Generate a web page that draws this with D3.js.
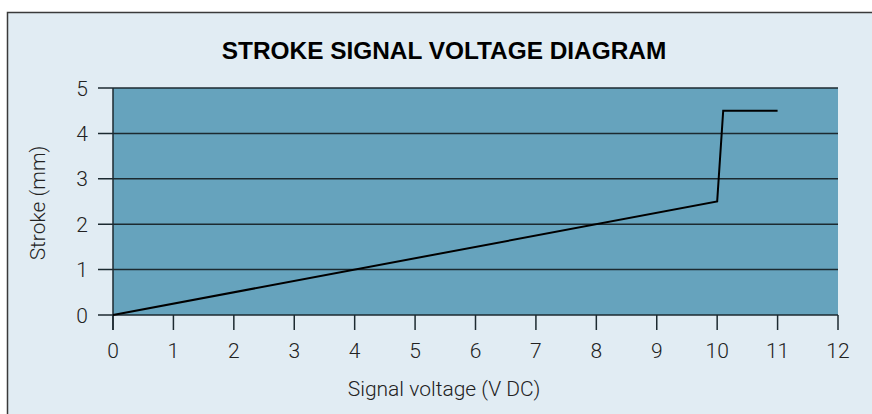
<!DOCTYPE html>
<html><head><meta charset="utf-8">
<script src="https://cdn.jsdelivr.net/npm/d3@7"></script>
<style>html,body{margin:0;padding:0;background:#fff;}svg{display:block;}</style>
</head><body>
<svg id="c" width="872" height="414"></svg>
<script>
const voltage = [0, 10, 10.1, 11];
const stroke = [0, 2.5, 4.5, 4.5];
const xTicks = [0,1,2,3,4,5,6,7,8,9,10,11,12];
const yTicks = [0,1,2,3,4,5];
const title = "STROKE SIGNAL VOLTAGE DIAGRAM";
const xLabel = "Signal voltage (V DC)";
const yLabel = "Stroke (mm)";

const svg = d3.select("#c");
const font = "'Liberation Sans', Arial, sans-serif";
const lfont = "Roboto, 'Liberation Sans', sans-serif";
svg.append("rect").attr("x",7.5).attr("y",12.5).attr("width",880).attr("height",420)
  .attr("fill","#e1ecf3").attr("stroke","#3a3a3a").attr("stroke-width",1.5);

const x = d3.scaleLinear().domain([0,12]).range([113,838]);
const y = d3.scaleLinear().domain([0,5]).range([315,88]);

svg.append("rect").attr("x",x(0)).attr("y",y(5)).attr("width",x(12)-x(0)).attr("height",y(0)-y(5))
  .attr("fill","#66a3bd");

svg.append("g").selectAll("line").data(yTicks).join("line")
  .attr("x1",x(0)-15).attr("x2",x(12)).attr("y1",d=>y(d)).attr("y2",d=>y(d))
  .attr("stroke","#1c2a30").attr("stroke-width",1.5);
svg.append("line").attr("x1",x(0)).attr("x2",x(0)).attr("y1",y(5)).attr("y2",y(0)+15)
  .attr("stroke","#1c2a30").attr("stroke-width",1.5);

svg.append("g").selectAll("text").data(yTicks).join("text")
  .attr("x",x(0)-25).attr("y",d=>y(d)).attr("dy","0.36em").attr("text-anchor","end")
  .attr("font-family",lfont).attr("font-weight",300).attr("font-size",21).attr("fill","#222").text(d=>d);

svg.append("g").selectAll("line").data(xTicks).join("line")
  .attr("x1",d=>x(d)).attr("x2",d=>x(d)).attr("y1",y(0)).attr("y2",y(0)+15)
  .attr("stroke","#1c2a30").attr("stroke-width",1.5);
svg.append("g").selectAll("text").data(xTicks).join("text")
  .attr("x",d=>x(d)).attr("y",y(0)+43).attr("text-anchor","middle")
  .attr("font-family",lfont).attr("font-weight",300).attr("font-size",21).attr("fill","#222").text(d=>d);

const pts = voltage.map((v,i)=>[v,stroke[i]]);
svg.append("path").attr("d",d3.line().x(d=>x(d[0])).y(d=>y(d[1]))(pts))
  .attr("fill","none").attr("stroke","#000").attr("stroke-width",2);

svg.append("text").attr("x",444).attr("y",59).attr("text-anchor","middle")
  .attr("font-family",font).attr("font-weight","bold").attr("font-size",24.4).attr("fill","#000").text(title);
svg.append("text").attr("x",444).attr("y",396).attr("text-anchor","middle")
  .attr("font-family",lfont).attr("font-weight",300).attr("font-size",21).attr("fill","#222").text(xLabel);
svg.append("text").attr("transform","translate(45,203) rotate(-90)").attr("text-anchor","middle")
  .attr("font-family",lfont).attr("font-weight",300).attr("font-size",21).attr("fill","#222").text(yLabel);
</script>
</body></html>
